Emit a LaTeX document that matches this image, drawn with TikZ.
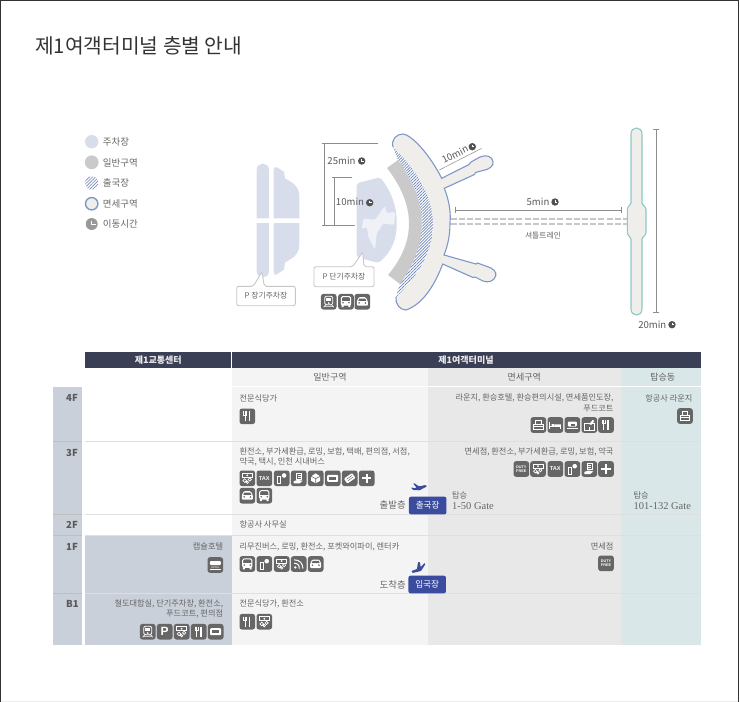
\documentclass[tikz,border=0pt]{standalone}
\usepackage{fontspec}
\setmainfont{Noto Sans CJK KR}
\newfontfamily\gatefont{Liberation Serif}
\newfontfamily\iconfont{Liberation Sans}
\usetikzlibrary{patterns.meta}

\definecolor{headnavy}{HTML}{3A3F55}
\definecolor{floorgray}{HTML}{CAD0D9}
\definecolor{colpublic}{HTML}{F4F4F4}
\definecolor{colduty}{HTML}{E8E8E8}
\definecolor{colgate}{HTML}{DAE7E8}
\definecolor{rowline}{HTML}{DEDFDF}
\definecolor{txtgray}{HTML}{666666}
\definecolor{parkblue}{HTML}{D8DDEB}
\definecolor{zonegray}{HTML}{CACACA}
\definecolor{hatchblue}{HTML}{6C82BA}
\definecolor{termfill}{HTML}{F0EEEA}
\definecolor{termline}{HTML}{7F97C8}
\definecolor{gateline}{HTML}{8CC9C5}
\definecolor{iconfill}{HTML}{666666}
\definecolor{btnblue}{HTML}{3B4C9F}

\newcounter{iconno}
\newcommand{\tabicon}[3]{\stepcounter{iconno}%
  \node[iconbg] (icon\arabic{iconno}) at (#1,#2) {};
  \pic at (#1,#2) {#3};}
\newcommand{\clockat}[2]{\pic[scale=.7] at (#1,#2) {clockmark};}

\tikzset{
  txt/.style={inner sep=0pt,text=txtgray,font=\fontsize{8.2}{9.8}\selectfont},
  txtl/.style={txt,anchor=west},
  txtr/.style={txt,anchor=east},
  coltitle/.style={txt,font=\fontsize{9}{10.8}\selectfont},
  headtitle/.style={inner sep=0pt,text=white!92!black,font=\fontsize{9}{10.8}\selectfont\bfseries},
  floorname/.style={inner sep=0pt,anchor=west,text=black!65,font=\fontsize{9.6}{11}\selectfont\bfseries},
  legendtxt/.style={txtl,font=\fontsize{9.5}{11}\selectfont},
  mintxt/.style={inner sep=0pt,text=black!65,font=\fontsize{9.6}{11}\selectfont},
  gatetxt/.style={inner sep=0pt,anchor=west,text=txtgray,font=\fontsize{10.5}{12}\selectfont\gatefont},
  callout/.style={draw=black!22,line width=.9pt,fill=white,rounded corners=2pt},
  calltxt/.style={txt,font=\fontsize{7.8}{9}\selectfont},
  dimline/.style={draw=black!45,line width=.5pt},
  iconbg/.style={fill=iconfill,rounded corners=2.5pt,minimum size=15.6pt,inner sep=0pt},
  btn/.style={fill=btnblue,rounded corners=2pt,text=white,inner sep=0pt,minimum width=37.5pt,minimum height=17.6pt,font=\fontsize{8.6}{10}\selectfont},
  gl/.style={draw=white,line width=.8pt,fill=none},
  clockmark/.pic={\fill[black!68] (0,0) circle (5.3);
    \draw[white,line width=1pt] (0,-3) -- (0,0) -- (3,0);},
  iconfork/.pic={\draw[gl,line width=1.2pt] (-2.2,-5) -- (-2.2,5);
    \draw[gl,line width=1.6pt] (2.2,-5) -- (2.2,5);
    \draw[gl,line width=.5pt] (-3.6,-5) -- (-3.6,-1.5) -- (-.8,-1.5) -- (-.8,-5);},
  iconbus/.pic={\draw[gl,rounded corners=1.5pt,line width=1pt] (-4.6,-5.2) rectangle (4.6,3.4);
    \fill[white] (-4.6,-.8) rectangle (4.6,3.4);
    \fill[iconfill] (-3,1) circle (.9) (3,1) circle (.9);
    \fill[white] (-4.4,3) rectangle (-2.4,5.3) (2.4,3) rectangle (4.4,5.3);},
  iconcar/.pic={\fill[white,rounded corners=1pt] (-5.5,4) -- (-5.5,-.5) -- (-3.5,-4.5) -- (3.5,-4.5) -- (5.5,-.5) -- (5.5,4) -- cycle;
    \fill[iconfill] (-3,-3.2) -- (3,-3.2) -- (4,-.9) -- (-4,-.9) -- cycle;
    \fill[iconfill] (-3.2,1.2) circle (.9) (3.2,1.2) circle (.9);},
  icontrain/.pic={\draw[gl,rounded corners=2pt] (-4,-5.5) rectangle (4,3);
    \fill[white] (-2.6,-3.5) rectangle (2.6,-.5);
    \fill[white] (0,1.4) circle (1);
    \draw[gl,line width=.6pt] (-3,3) -- (-5,5.5) (3,3) -- (5,5.5) (-4,4.5) -- (4,4.5);},
  iconmoney/.pic={\draw[gl,line width=.6pt] (-5,-5) rectangle (5,-1);
    \fill[white] (0,-3) circle (1);
    \draw[gl,line width=.7pt] (-2.6,2.2) circle (1.8) (2.4,1.2) circle (1.6) (0,4) circle (1.2);},
  icontax/.pic={\node[inner sep=0pt,text=white,font=\fontsize{5.6}{6}\selectfont\iconfont\bfseries] (taxmark) at (0,0) {TAX};},
  iconphone/.pic={\draw[gl,line width=.8pt] (-4.4,-2) rectangle (-1,5);
    \fill[white] (2.4,-2.8) circle (2.3);},
  icondoc/.pic={\draw[gl,line width=.6pt] (-2,-5.5) rectangle (3,.5);
    \draw[gl,line width=.4pt] (-1,-3.5) -- (2,-3.5) (-1,-1.5) -- (2,-1.5);
    \fill[white] (-5,3) -- (-1,1.5) -- (4,2.5) -- (1,5) -- (-5,5) -- cycle;},
  iconparcel/.pic={\fill[white] (-4.5,-2) -- (0,-5) -- (4.5,-2) -- (4.5,2.5) -- (0,5) -- (-4.5,2.5) -- cycle;
    \draw[iconfill,line width=.6pt] (-4.5,-2) -- (0,.3) -- (4.5,-2) (0,.3) -- (0,5);},
  iconshop/.pic={\fill[white,rounded corners=1pt] (-5.5,-3.5) rectangle (5.5,3.5);
    \fill[iconfill] (-3.5,-1.6) rectangle (3.5,1.2);},
  iconbook/.pic={\fill[white,rotate=35,rounded corners=1pt] (-5,-3) rectangle (5,3);
    \draw[iconfill,line width=.5pt,rotate=35] (-3,1) -- (3.5,1) (-3,-1) -- (3.5,-1);},
  iconplus/.pic={\draw[gl,line width=2.2pt] (-4.6,0) -- (4.6,0) (0,-4.6) -- (0,4.6);},
  iconhotel/.pic={\fill[white,rounded corners=1pt] (-5.5,-4) rectangle (5.5,0);
    \draw[gl,line width=.6pt] (-5.5,4) -- (5.5,4);
    \node[inner sep=0pt,text=white,font=\fontsize{2.6}{3}\selectfont\iconfont] (hotelmark) at (0,2.2) {HOTEL};},
  iconwifi/.pic={\fill[white] (-3.4,3.4) circle (1.3);
    \draw[gl,line width=1pt] (-4.6,-.8) .. controls (-1,-.8) and (.6,1) .. (.6,4.6)
      (-4.6,-4.2) .. controls (1,-4.2) and (4.2,-.5) .. (4.2,4.6);},
  iconlounge/.pic={\draw[gl,line width=.9pt] (-2.8,-4.8) rectangle (2.8,-.5);
    \draw[gl,line width=.9pt] (-4.8,-.5) rectangle (4.8,4.4);
    \fill[white] (-4.8,.8) rectangle (4.8,2);},
  iconbed/.pic={\draw[gl,line width=.9pt] (-5.5,-3) -- (-5.5,3.5) (5.5,-.5) -- (5.5,3.5) (-5.5,1.5) -- (5.5,1.5);
    \fill[white] (-3.8,-1) rectangle (-1,.8) (-.5,-.6) rectangle (5.5,.8);},
  iconcup/.pic={\fill[white,rounded corners=1pt] (-4.5,-3.5) rectangle (4.5,1.5);
    \fill[iconfill] (-1,-1.5) rectangle (2.5,.5);
    \draw[gl,line width=.9pt] (-5.5,3.4) -- (5.5,3.4);},
  icongift/.pic={\draw[gl,line width=.6pt] (-5,-1.5) rectangle (5,5);
    \fill[white] (0,-1) -- (3.5,-5.2) -- (5,-4) -- (1.8,0) -- cycle;
    \draw[gl,line width=.6pt] (0,5) -- (0,1.5);},
  iconduty/.pic={\node[inner sep=0pt,align=center,text=white,font=\fontsize{3.8}{4.4}\selectfont\iconfont\bfseries] (dutymark) at (0,0) {DUTY\\FREE};},
  iconpark/.pic={\node[inner sep=0pt,text=white,font=\fontsize{12}{12}\selectfont\iconfont\bfseries] (parkmark) at (0,0) {P};},
}

\begin{document}
\begin{tikzpicture}[x=1pt,y=-1pt]
  \useasboundingbox (0,0) rectangle (740,702);

  % page frame and title
  \draw[black!80,line width=1.1pt] (.5,702) -- (.5,.5) -- (738.8,.5) -- (738.8,702);
  \draw[black!8,line width=.8pt] (1,701.2) -- (738,701.2);
  \node[inner sep=0pt,anchor=west,text=black!80,font=\fontsize{20.3}{24}\selectfont] (title) at (35,46) {제1여객터미널 층별 안내};

  % legend
  \fill[parkblue] (91.7,141.7) circle (6.7);
  \fill[zonegray] (91.7,162.3) circle (6.9);
  \path[pattern={Lines[angle=45,distance=2.2pt,line width=.6pt]},pattern color=hatchblue] (91.7,183) circle (6.7);
  \draw[termline,fill=termfill,line width=1.4pt] (91.7,203.7) circle (6.2);
  \fill[black!40] (91.7,224) circle (6);
  \draw[white,line width=1pt] (91.7,220.5) -- (91.7,224) -- (95.5,224);
  \node[legendtxt] (legpark) at (102.7,141.7) {주차장};
  \node[legendtxt] (legzone) at (102.7,162.5) {일반구역};
  \node[legendtxt] (legexit) at (102.7,183) {출국장};
  \node[legendtxt] (legduty) at (102.7,203.5) {면세구역};
  \node[legendtxt] (legtime) at (102.7,224) {이동시간};

  % long term parking
  \fill[parkblue] (256.7,218.3) -- (256.7,170) .. controls (256.7,161.5) and (269,161.5) .. (269,170) -- (269,218.3) -- cycle;
  \fill[parkblue] (256.7,223) -- (256.7,271) .. controls (256.7,279.5) and (269,279.5) .. (269,271) -- (269,223) -- cycle;
  \fill[parkblue] (273.7,218.3) -- (273.7,169) .. controls (273.7,167) and (275,167) .. (276.7,167.3) -- (284,171.7) -- (285,178.3) -- (291.7,182.3) .. controls (296,185) and (299.3,190) .. (299.3,196) -- (299.3,218.3) -- cycle;
  \fill[parkblue] (273.7,223) -- (273.7,272) .. controls (273.7,275) and (275,275) .. (276.7,274.5) -- (284,269.5) -- (285,262.5) -- (291.7,258.5) .. controls (296,256) and (299.3,251) .. (299.3,245) -- (299.3,223) -- cycle;

  % short term parking
  \fill[parkblue,rounded corners=2pt] (356.7,183.3) -- (380,177.3) .. controls (392,192) and (396.7,208) .. (396.7,223) .. controls (396.7,238) and (392,252) .. (378.3,263) -- (356.7,257) -- cycle;
  \fill[white!60!parkblue,rounded corners=1.5pt] (385,205.7) -- (386.7,213.3) -- (395,211.7) -- (394.3,225) -- (383.3,223.3) -- (376.7,233.3) -- (375,250) -- (368.3,236.7) -- (366.7,226.7) -- (361.7,229.3) -- (363.3,218.3) -- (375,220) -- cycle;

  % terminal
  \def\termouter{(393,147) .. controls (391,140) and (396,134) .. (403,134)
    .. controls (412,135) and (430,155) .. (441.7,178.3)
    -- (469,164.5) -- (471,162) -- (480,157) .. controls (486,154.5) and (492,156) .. (493,161.5)
    .. controls (494,166) and (489,169.5) .. (483,170.5) -- (475.5,172.5) -- (474.5,174.5) -- (444.3,188.3)
    .. controls (449,200) and (451,212) .. (450,223)
    .. controls (450,235) and (448,245) .. (444,255)
    -- (476,264) -- (477.5,263) -- (487,266.5) .. controls (493,268) and (497,272) .. (495.7,276)
    .. controls (494,281.5) and (488,283) .. (483,281) -- (475,277) -- (473,277.5) -- (442.7,264)
    .. controls (436,282) and (424,304) .. (406,310)
    .. controls (400,310) and (395,304) .. (396,297)}
  \fill[termfill] \termouter .. controls (446.3,248.3) and (445.3,198.3) .. (393,147) -- cycle;
  \fill[white] (393,147) .. controls (445.3,198.3) and (446.3,248.3) .. (396,297) -- (400,284) .. controls (429.6,243) and (429,202.7) .. (398,160) -- cycle;
  \path[pattern={Lines[angle=45,distance=2.1pt,line width=.7pt]},pattern color=hatchblue] (393,147) .. controls (445.3,198.3) and (446.3,248.3) .. (396,297) -- (400,284) .. controls (429.6,243) and (429,202.7) .. (398,160) -- cycle;
  \fill[zonegray] (387,168) -- (398,160) .. controls (429,202.7) and (429.6,243) .. (400,284) -- (388,275) .. controls (416.3,241.3) and (416,205.7) .. (387,168) -- cycle;
  \draw[termline,line width=1.1pt] \termouter;

  % boarding concourse
  \draw[gateline,fill=termfill,line width=1.1pt] (631,203) -- (631,134) .. controls (631,126) and (642,126) .. (642,134) -- (642,203) .. controls (642,205) and (646,206) .. (646,210) -- (646,232) .. controls (646,236) and (642,237) .. (642,239) -- (642,309) .. controls (642,317) and (631,317) .. (631,309) -- (631,239) .. controls (631,237) and (627.3,236) .. (627.3,232) -- (627.3,210) .. controls (627.3,206) and (631,205) .. (631,203) -- cycle;

  % shuttle line
  \draw[black!22,line width=1.9pt,dash pattern=on 6pt off 2.2pt] (450.7,219.3) -- (626.7,219.3);
  \draw[black!22,line width=1.9pt,dash pattern=on 6pt off 2.2pt] (450.7,224) -- (626.7,224);
  \node[calltxt] (shuttle) at (543,235.7) {셔틀트레인};

  % travel times
  \draw[dimline] (322,143.3) -- (377.7,143.3);
  \draw[dimline] (324.7,143.3) -- (324.7,225.3);
  \draw[dimline] (322,225.3) -- (354.7,225.3);
  \draw[dimline] (331.5,177.3) -- (352,177.3);
  \draw[dimline] (334,177.3) -- (334,225.3);
  \node[mintxt] (min25) at (341.5,160.7) {25min};
  \clockat{361.7}{161}
  \node[mintxt] (min10a) at (350,202) {10min};
  \clockat{369.7}{202.7}
  \draw[dimline] (439.3,170) -- (481.7,148.3);
  \node[mintxt,rotate=27] (min10b) at (455,154.3) {10min};
  \clockat{472.3}{146.7}
  \draw[dimline,|-|] (454.7,210) -- (621.7,210);
  \node[mintxt] (min5) at (538,201.7) {5min};
  \clockat{555}{202}
  \draw[dimline,|-|] (656.3,129.3) -- (656.3,312);
  \node[mintxt] (min20) at (652.3,324.7) {20min};
  \clockat{672}{324.7}

  % parking callouts
  \draw[callout] (253.3,286.3) -- (262,271.7) -- (264.3,286.3) -- (295.3,286.3) -- (295.3,305.7) -- (236.7,305.7) -- (236.7,286.3) -- cycle;
  \node[calltxt] (longpark) at (266,296) {P 장기주차장};
  \draw[callout] (352.7,266.7) -- (362.7,252) -- (364,266.7) -- (374,266.7) -- (374,286.7) -- (314,286.7) -- (314,266.7) -- cycle;
  \node[calltxt] (shortpark) at (344,276.7) {P 단기주차장};
  \tabicon{328.7}{301.7}{icontrain}
  \tabicon{346}{301.7}{iconbus}
  \tabicon{362.3}{301.7}{iconcar}

  % table backgrounds
  \fill[colpublic] (231.5,368) rectangle (428,645);
  \fill[colduty] (428,368) rectangle (621,645);
  \fill[colgate] (621,368) rectangle (700.7,645);
  \fill[floorgray] (53,387) rectangle (82,645);
  \fill[floorgray] (85,535) rectangle (231.5,645);
  \fill[headnavy] (85,351.7) rectangle (231,368);
  \fill[headnavy] (232,351.7) rectangle (700.7,368);
  \draw[white,line width=.7pt] (231.5,386.5) -- (700.7,386.5);
  \foreach \y in {441.5,514.5,535,593.5}
    \draw[rowline,line width=.7pt] (85,\y) -- (700.7,\y);
  \foreach \y in {441.5,514.5,535,593.5}
    \draw[white!75!black,line width=.5pt] (53,\y) -- (82,\y);

  % table heads
  \node[headtitle] (headbus) at (158.3,360) {제1교통센터};
  \node[headtitle] (headterm) at (466,360) {제1여객터미널};
  \node[coltitle] (colpub) at (330,377) {일반구역};
  \node[coltitle] (coldut) at (524.3,377) {면세구역};
  \node[coltitle] (colbrd) at (662.7,377) {탑승동};
  \node[floorname] (f4) at (66,398) {4F};
  \node[floorname] (f3) at (66,453) {3F};
  \node[floorname] (f2) at (66,524.7) {2F};
  \node[floorname] (f1) at (66,546.7) {1F};
  \node[floorname] (fb) at (66,603.5) {B1};

  % 4F
  \node[txtl] (t4a) at (239.3,398.5) {전문식당가};
  \tabicon{247.3}{416.3}{iconfork}
  \node[txtr] (t4b) at (613.7,398.3) {라운지, 환승호텔, 환승편의시설, 면세품인도장,};
  \node[txtr] (t4c) at (613.7,408.3) {푸드코트};
  \foreach \x/\k in {538.3/iconlounge,555.3/iconbed,572.3/iconcup,589.3/icongift,606/iconfork}
    {\tabicon{\x}{425}{\k}}
  \node[txtr] (t4d) at (692.7,398.3) {항공사 라운지};
  \tabicon{685}{416}{iconlounge}

  % 3F
  \node[txtl] (t3a) at (239.3,451.7) {환전소, 부가세환급, 로밍, 보험, 택배, 편의점, 서점,};
  \node[txtl] (t3b) at (239.3,461.7) {약국, 택시, 인천 시내버스};
  \foreach \x/\k in {247.3/iconmoney,264.3/icontax,281.7/iconphone,298.7/icondoc,315.7/iconparcel,332.7/iconshop,349.7/iconbook,366.7/iconplus}
    {\tabicon{\x}{478.3}{\k}}
  \tabicon{247.3}{495.7}{iconcar}
  \tabicon{264.3}{495.7}{iconbus}
  \node[txtr] (t3c) at (613.7,451.7) {면세점, 환전소, 부가세환급, 로밍, 보험, 약국};
  \foreach \x/\k in {521.3/iconduty,538/iconmoney,555.3/icontax,572.3/iconphone,589.3/icondoc,606/iconplus}
    {\tabicon{\x}{469}{\k}}
  \fill[btnblue,rounded corners=.6pt] (413,483.3) -- (414.5,483.3) -- (419,486.4) -- (425.5,485) -- (427,486.4) -- (419.5,490.3) -- (413,490) -- (411,487.5) -- (412.5,487.5) -- (414,488.3) -- (416.5,487.6) -- cycle;
  \node[txt,font=\fontsize{9.4}{11}\selectfont] (deplabel) at (392.7,505) {출발층};
  \node[btn] (depbtn) at (427.7,505.5) {출국장};
  \node[txtl] (gatea) at (452,495) {탑승};
  \node[gatetxt] (gateb) at (452,505.7) {1-50 Gate};
  \node[txtl] (gatec) at (633.3,495) {탑승};
  \node[gatetxt] (gated) at (633.3,505.7) {101-132 Gate};

  % 2F
  \node[txtl] (t2a) at (239.3,524.7) {항공사 사무실};

  % 1F
  \node[txtr] (t1a) at (223.3,546.7) {캡슐호텔};
  \tabicon{215.3}{565}{iconhotel}
  \node[txtl] (t1b) at (239.3,546.7) {리무진버스, 로밍, 환전소, 포켓와이파이, 렌터카};
  \foreach \x/\k in {247.3/iconbus,264.3/iconphone,281.7/iconmoney,298.7/iconwifi,315.7/iconcar}
    {\tabicon{\x}{564}{\k}}
  \node[txtr] (t1c) at (613.7,546.3) {면세점};
  \tabicon{606}{563.3}{iconduty}
  \fill[btnblue,rounded corners=.6pt] (411.5,571) -- (417,569) -- (418,562) -- (420,562) -- (420.5,567) -- (424.5,563) -- (425.5,564) -- (421,571) -- (412.5,573) -- cycle;
  \node[txt,font=\fontsize{9.4}{11}\selectfont] (arrlabel) at (392.7,585) {도착층};
  \node[btn] (arrbtn) at (427.2,584.5) {입국장};

  % B1
  \node[txtr] (tba) at (223.3,604) {철도대합실, 단기주차장, 환전소,};
  \node[txtr] (tbb) at (223.3,614.3) {푸드코트, 편의점};
  \foreach \x/\k in {147.7/icontrain,164.7/iconpark,181.7/iconmoney,198.7/iconfork,215.7/iconshop}
    {\tabicon{\x}{631.7}{\k}}
  \node[txtl] (tbc) at (239.3,604) {전문식당가, 환전소};
  \tabicon{247.3}{621.7}{iconfork}
  \tabicon{264.3}{621.7}{iconmoney}
\end{tikzpicture}
\end{document}
